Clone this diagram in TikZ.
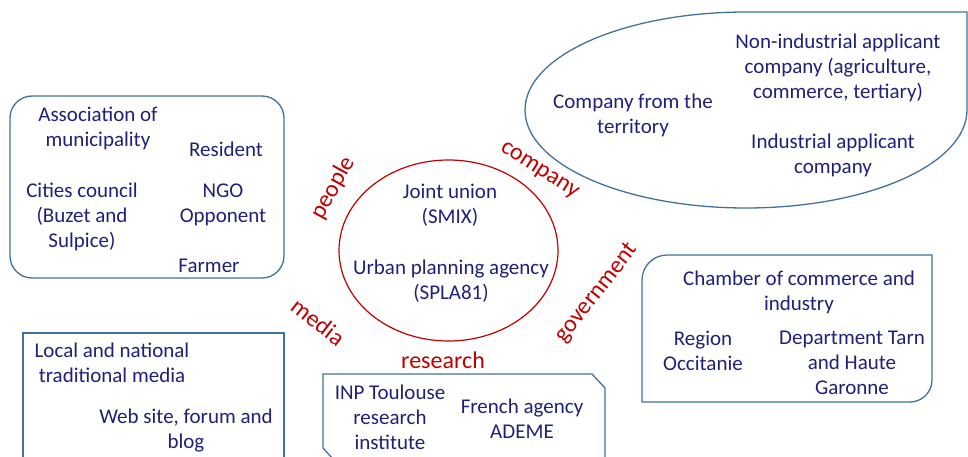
\documentclass[tikz,border=0pt]{standalone}
\usepackage{fontspec}
\setmainfont{Carlito}
\usetikzlibrary{shapes.geometric}
\definecolor{navy}{RGB}{32,32,120}
\definecolor{boxblue}{RGB}{65,113,156}
\definecolor{darkred}{RGB}{192,0,0}
\tikzset{
  item/.style={text=navy, font=\fontsize{21}{25}\selectfont, align=center, inner sep=0pt},
  tag/.style={text=darkred, font=\fontsize{24}{28}\selectfont, inner sep=0pt},
  frame/.style={draw=boxblue, line width=1.3pt},
}
\begin{document}
\begin{tikzpicture}[x=1pt,y=-1pt]
\useasboundingbox (0,0) rectangle (968,457);

% frames
\draw[frame, rounded corners=22] (10,96) rectangle (284,278);
\draw[frame] (746,12) -- (967,12) -- (967,110)
  .. controls (967,164.1) and (868.1,208) .. (746,208)
  .. controls (623.9,208) and (525,164.1) .. (525,110)
  .. controls (525,55.9) and (623.9,12) .. (746,12) -- cycle;
\draw[frame] (642,402) -- (642,280) .. controls (642,266.2) and (653.2,255) .. (667,255)
  -- (932,255) -- (932,380) .. controls (932,392.1) and (922.1,402) .. (910,402) -- cycle;
\draw[frame] (23,459) -- (23,333) -- (284,333) -- (284,459);
\draw[frame] (333,459) -- (323,448) -- (323,374) -- (592,374) -- (605,388) -- (605,459);

% core
\node[ellipse, draw=darkred, line width=1.2pt, minimum width=219pt, minimum height=181pt, inner sep=0pt] (core) at (448.5,250.5) {};
\node[item] (smix) at (450,205.5) {Joint union\\(SMIX)};
\node[item] (spla) at (451,281.5) {Urban planning agency\\(SPLA81)};

% tags
\node[tag, rotate=61] (people) at (333,188) {people};
\node[tag, rotate=-33] (company) at (539,171) {company};
\node[tag, rotate=52] (government) at (597,293) {government};
\node[tag, rotate=-38] (media) at (318,322) {media};
\node[tag] (research) at (443,360) {research};

% people box
\node[item] (assoc) at (98,128.5) {Association of\\municipality};
\node[item] (resident) at (226,149) {Resident};
\node[item] (cities) at (82,217) {Cities council\\(Buzet and\\Sulpice)};
\node[item] (ngo) at (223,205) {NGO\\Opponent};
\node[item] (farmer) at (209,266) {Farmer};

% company
\node[item] (territory) at (633,115) {Company from the\\territory};
\node[item] (nonind) at (838,67.5) {Non-industrial applicant\\company (agriculture,\\commerce, tertiary)};
\node[item] (ind) at (833,155.5) {Industrial applicant\\company};

% government
\node[item] (chamber) at (799,292) {Chamber of commerce and\\industry};
\node[item] (region) at (703,350.5) {Region\\Occitanie};
\node[item] (dept) at (852,363) {Department Tarn\\and Haute\\Garonne};

% media
\node[item] (trad) at (112,362.5) {Local and national\\traditional media};
\node[item] (web) at (186,430.5) {Web site, forum and\\blog};

% research
\node[item] (inp) at (390,417) {INP Toulouse\\research\\institute};
\node[item] (ademe) at (522,419) {French agency\\ADEME};
\end{tikzpicture}
\end{document}
